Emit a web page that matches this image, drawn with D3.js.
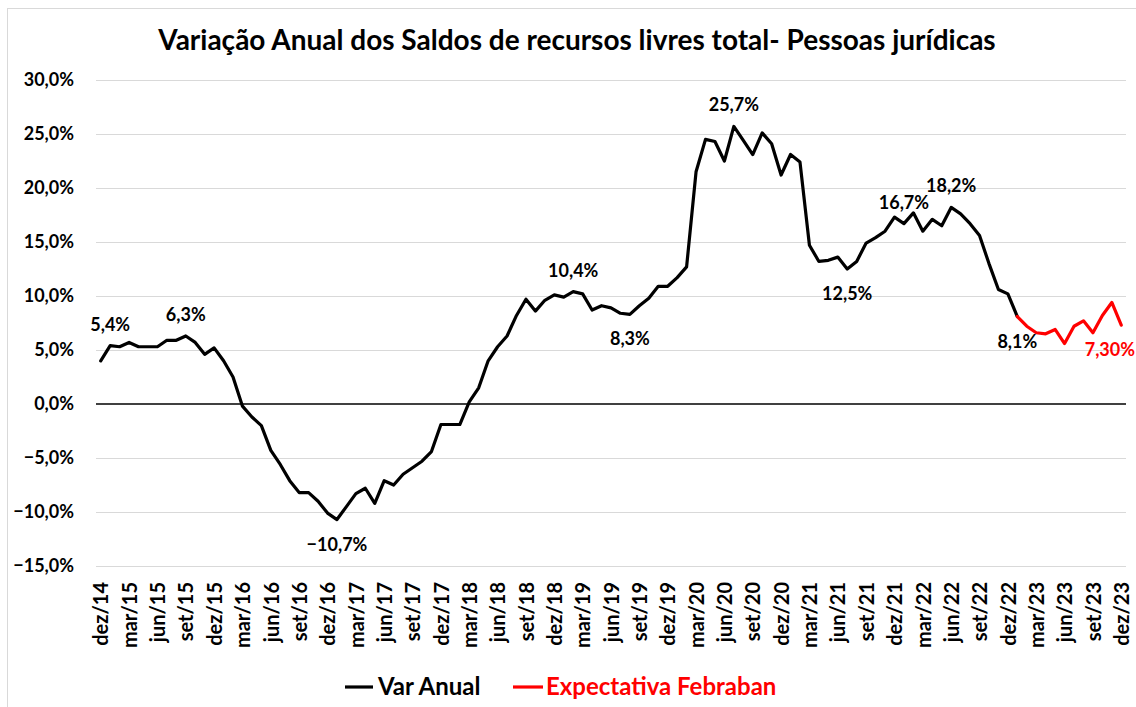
<!DOCTYPE html>
<html>
<head>
<meta charset="utf-8">
<script src="https://cdn.jsdelivr.net/npm/d3@7"></script>
<style>
  body { margin: 0; background: #fff; }
  svg { display: block; font-family: Lato, "Open Sans", sans-serif; font-weight: 700; }
</style>
</head>
<body>
<svg id="chart" width="1136" height="707"></svg>
<script>
// ---- DATA ----
const monthNames = ["jan","fev","mar","abr","mai","jun","jul","ago","set","out","nov","dez"];
const startYear = 14; // dez/14
const nMonths = 109;  // dez/14 .. dez/23

// Var Anual: dez/14 .. jan/23
const varAnual = [
  4.0, 5.4, 5.3, 5.7, 5.3, 5.3, 5.3, 5.9, 5.9, 6.3, 5.7, 4.6,
  5.2, 4.0, 2.5, -0.2, -1.2, -2.0, -4.3, -5.6, -7.1, -8.2, -8.2, -9.0,
  -10.1, -10.7, -9.5, -8.3, -7.8, -9.2, -7.1, -7.5, -6.5, -5.9, -5.3, -4.4,
  -1.9, -1.9, -1.9, 0.2, 1.5, 4.0, 5.3, 6.3, 8.2, 9.7, 8.6, 9.6,
  10.1, 9.9, 10.4, 10.2, 8.7, 9.1, 8.9, 8.4, 8.3, 9.1, 9.8, 10.9,
  10.9, 11.7, 12.7, 21.5, 24.5, 24.3, 22.5, 25.7, 24.4, 23.1, 25.1, 24.1,
  21.2, 23.1, 22.4, 14.7, 13.2, 13.3, 13.6, 12.5, 13.2, 14.9, 15.4, 16.0,
  17.3, 16.7, 17.7, 16.0, 17.1, 16.5, 18.2, 17.6, 16.7, 15.6, 13.0, 10.6,
  10.2, 8.1
];
// Expectativa Febraban: jan/23 .. dez/23
const expStart = 97;
const expectativa = [8.1, 7.2, 6.6, 6.5, 6.9, 5.6, 7.2, 7.7, 6.6, 8.2, 9.4, 7.3];

const yTicks = [30, 25, 20, 15, 10, 5, 0, -5, -10, -15];

// data labels: index in series, series, text position
const dataLabels = [
  {i: 1,  s: "var", pos: "above"},
  {i: 9,  s: "var", pos: "above"},
  {i: 25, s: "var", pos: "below"},
  {i: 50, s: "var", pos: "above"},
  {i: 56, s: "var", pos: "below"},
  {i: 67, s: "var", pos: "above"},
  {i: 79, s: "var", pos: "below"},
  {i: 85, s: "var", pos: "above"},
  {i: 90, s: "var", pos: "above"},
  {i: 97, s: "var", pos: "below"},
  {i: 108, s: "exp", pos: "below", decimals: 2, anchor: "end"}
];

// categories
const categories = [];
for (let k = 0; k < nMonths; k++) {
  const m = (11 + k) % 12;
  const y = startYear + Math.floor((11 + k) / 12);
  categories.push(monthNames[m] + "/" + y);
}

// ---- CHART ----
const svg = d3.select("#chart");
const plot = {left: 96, right: 1126, top: 80, bottom: 566};

svg.append("rect").attr("x", 7.5).attr("y", 8.5).attr("width", 1140).attr("height", 720)
  .attr("fill", "#fff").attr("stroke", "#d9d9d9").attr("stroke-width", 1);

const x = d3.scalePoint().domain(categories).range([plot.left, plot.right]).padding(0.5);
const y = d3.scaleLinear().domain([-15, 30]).range([plot.bottom, plot.top]);

// gridlines
svg.append("g").selectAll("line").data(yTicks.filter(d => d !== 0)).join("line")
  .attr("x1", plot.left).attr("x2", plot.right)
  .attr("y1", d => Math.round(y(d)) + 0.5).attr("y2", d => Math.round(y(d)) + 0.5)
  .attr("stroke", "#d9d9d9").attr("stroke-width", 1);

// y axis labels
const yAxis = d3.axisLeft(y).tickValues(yTicks).tickSize(0).tickPadding(0)
  .tickFormat(d => d3.format(".1f")(d).replace(".", ",") + "%");
const gy = svg.append("g").attr("transform", `translate(${74},0)`).call(yAxis);
gy.select(".domain").remove();
gy.selectAll("text").attr("font-size", 18).attr("font-weight", 700)
  .attr("font-family", "Lato, sans-serif").attr("fill", "#000");

// zero line
svg.append("line").attr("x1", plot.left).attr("x2", plot.right)
  .attr("y1", y(0)).attr("y2", y(0)).attr("stroke", "#000").attr("stroke-width", 1.3);

// x axis labels
const xLabelCats = categories.filter((c, k) => k % 3 === 0);
const xAxis = d3.axisBottom(x).tickValues(xLabelCats).tickSize(0).tickPadding(0);
const gx = svg.append("g").attr("transform", `translate(0,${582})`).call(xAxis);
gx.select(".domain").remove();
gx.selectAll("text")
  .attr("font-size", 20).attr("font-weight", 700).attr("font-family", "Lato, sans-serif")
  .attr("fill", "#000")
  .attr("text-anchor", "end")
  .attr("transform", "rotate(-90)")
  .attr("x", 0).attr("y", 0).attr("dy", "0.36em");

// lines
const varPts = varAnual.map((v, k) => ({c: categories[k], v}));
const expPts = expectativa.map((v, k) => ({c: categories[expStart + k], v}));
const line = d3.line().x(d => x(d.c)).y(d => y(d.v));

svg.append("path").datum(varPts).attr("d", line)
  .attr("fill", "none").attr("stroke", "#000").attr("stroke-width", 3.2)
  .attr("stroke-linejoin", "round").attr("stroke-linecap", "round");
svg.append("path").datum(expPts).attr("d", line)
  .attr("fill", "none").attr("stroke", "#ff0000").attr("stroke-width", 3.2)
  .attr("stroke-linejoin", "round").attr("stroke-linecap", "round");

// data labels
dataLabels.forEach(l => {
  const pts = l.s === "var" ? varPts : expPts;
  const idx = l.s === "var" ? l.i : l.i - expStart;
  const p = pts[idx];
  const txt = d3.format("." + (l.decimals || 1) + "f")(p.v).replace(".", ",") + "%";
  let px = x(p.c);
  let anchor = "middle";
  if (l.anchor === "end") { px = 1135; anchor = "end"; }
  const py = l.pos === "above" ? y(p.v) - 15 : y(p.v) + 31;
  svg.append("text").attr("x", px).attr("y", py).attr("text-anchor", anchor)
    .attr("font-size", 18).attr("fill", l.s === "var" ? "#000" : "#ff0000").text(txt);
});

// title
svg.append("text").attr("x", 577).attr("y", 50).attr("text-anchor", "middle")
  .attr("font-size", 28).attr("fill", "#000")
  .text("Variação Anual dos Saldos de recursos livres total- Pessoas jurídicas");

// legend
const legend = [
  {name: "Var Anual", color: "#000", x1: 345, x2: 373, tx: 378},
  {name: "Expectativa Febraban", color: "#ff0000", x1: 513, x2: 543, tx: 546}
];
legend.forEach(d => {
  svg.append("line").attr("x1", d.x1).attr("x2", d.x2).attr("y1", 687).attr("y2", 687)
    .attr("stroke", d.color).attr("stroke-width", 3.2);
  svg.append("text").attr("x", d.tx).attr("y", 695).attr("font-size", 24)
    .attr("fill", d.color).text(d.name);
});
</script>
</body>
</html>
